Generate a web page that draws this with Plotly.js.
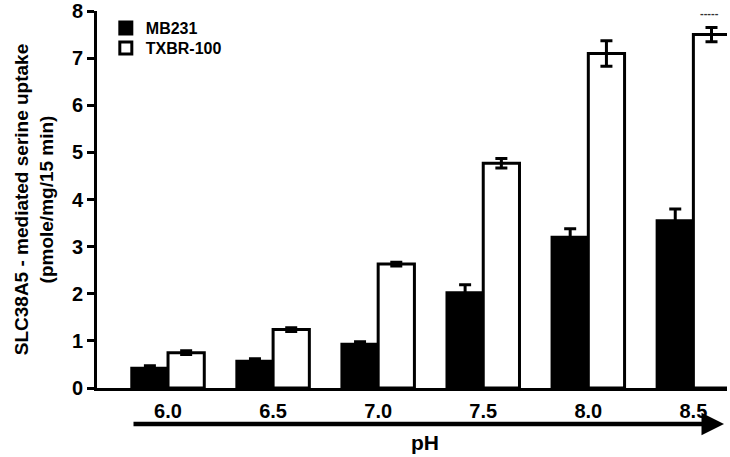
<!DOCTYPE html>
<html><head><meta charset="utf-8">
<script src="https://cdn.plot.ly/plotly-3.0.1.min.js"></script>
<style>html,body{margin:0;padding:0;background:#fff}#c{width:730px;height:457px}</style>
</head><body><div id="c"></div>
<script>
const phLabels = ['6.0','6.5','7.0','7.5','8.0','8.5'];
const mb231 = [0.42, 0.57, 0.93, 2.02, 3.20, 3.55];
const mb231Err = [0.05, 0.05, 0.05, 0.17, 0.18, 0.25];
const txbr = [0.75, 1.24, 2.63, 4.77, 7.10, 7.50];
const txbrErr = [0.04, 0.04, 0.04, 0.10, 0.27, 0.15];
const yTicks = [0,1,2,3,4,5,6,7,8];

const F = 'Liberation Sans, Arial, sans-serif';
const legFont = {family:F, size:16, color:'#000', weight:'bold'};
const traces = [
  {type:'bar', name:'MB231', x:phLabels, y:mb231, legend:'legend',
   marker:{color:'#000', line:{color:'#000', width:3}},
   error_y:{type:'data', array:mb231Err, visible:true, color:'#000', thickness:3, width:6}},
  {type:'bar', name:'TXBR-100', x:phLabels, y:txbr, legend:'legend2',
   marker:{color:'#fff', line:{color:'#000', width:3}},
   error_y:{type:'data', array:txbrErr, visible:true, color:'#000', thickness:3, width:6}}
];
const layout = {
  width:730, height:457,
  margin:{l:97, r:3, t:11, b:69},
  paper_bgcolor:'#fff', plot_bgcolor:'#fff',
  barmode:'group', bargap:0.31, bargroupgap:0,
  font:{family:F, color:'#000', weight:'bold'},
  showlegend:true,
  legend:{x:0.014, y:(388-28)/377, xanchor:'left', yanchor:'middle', bgcolor:'rgba(0,0,0,0)',
          font:legFont, itemwidth:30},
  legend2:{x:0.014, y:(388-48)/377, xanchor:'left', yanchor:'middle', bgcolor:'rgba(0,0,0,0)',
          font:legFont, itemwidth:30},
  xaxis:{type:'category', range:[-0.676, 5.32], showline:true, linecolor:'#000', linewidth:3,
         ticks:'', showgrid:false, zeroline:false, ticklabelstandoff:3,
         tickfont:{family:F, size:20, color:'#000', weight:'bold'}},
  yaxis:{range:[0,8], tickvals:yTicks, showline:true, linecolor:'#000', linewidth:3,
         ticks:'outside', ticklen:7, tickwidth:3, tickcolor:'#000', showgrid:false, zeroline:false,
         tickfont:{family:F, size:20, color:'#000', weight:'bold'},
         title:{text:'SLC38A5 - mediated serine uptake<br>(pmole/mg/15 min)',
                font:{family:F, size:19, color:'#000', weight:'bold'}, standoff:14}},
  annotations:[
    {xref:'paper', yref:'paper', x:(724-97)/630, y:-(424-388)/377, text:'', showarrow:true,
     ax:-592, ay:0, arrowhead:2, arrowsize:1, arrowwidth:4.5, arrowcolor:'#000', standoff:0},
    {xref:'paper', yref:'paper', x:(425-97)/630, y:-(442-388)/377, text:'pH', showarrow:false,
     xanchor:'center', yanchor:'middle',
     font:{family:F, size:21, color:'#000', weight:'bold'}},
    {xref:'paper', yref:'paper', x:(709-97)/630, y:(388-13)/377, text:'-----', showarrow:false,
     xanchor:'center', yanchor:'middle',
     font:{family:F, size:11, color:'#333'}}
  ]
};
Plotly.newPlot('c', traces, layout, {displayModeBar:false, staticPlot:true});
</script></body></html>
